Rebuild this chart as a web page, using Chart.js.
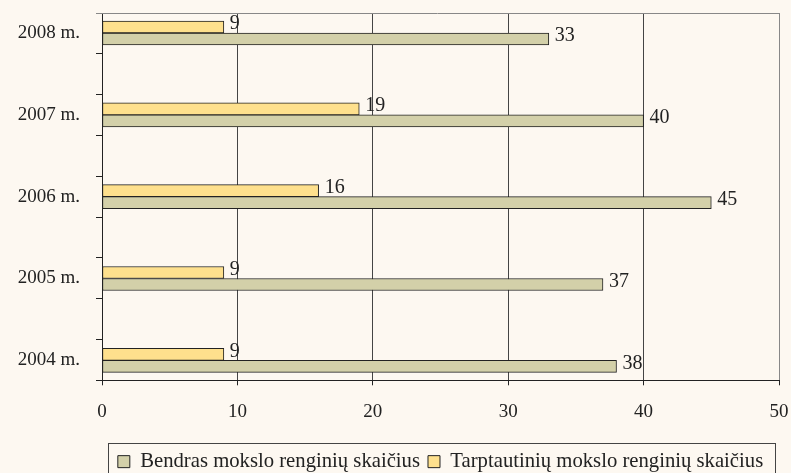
<!DOCTYPE html>
<html lang="lt">
<head>
<meta charset="utf-8">
<script src="https://cdn.jsdelivr.net/npm/chart.js@4.4.0/dist/chart.umd.min.js"></script>
<style>
  html, body { margin: 0; padding: 0; background: #fdf8f1; }
  #wrap { width: 791px; height: 473px; }
</style>
</head>
<body>
<div id="wrap"><canvas id="myChart" width="791" height="473"></canvas></div>
<script>
// values, top to bottom
const years = ['2008 m.', '2007 m.', '2006 m.', '2005 m.', '2004 m.'];
const bendras = [33, 40, 45, 37, 38];
const tarptautiniu = [9, 19, 16, 9, 9];
const seriesNames = ['Bendras mokslo renginių skaičius', 'Tarptautinių mokslo renginių skaičius'];
const xMin = 0, xMax = 50, xStep = 10;

const FONT = 'Liberation Serif, Times New Roman, serif';
const yMin = -0.244, yMax = 4.244;

function tickVal(c) {
  return (c && c.tick) ? c.tick.value : null;
}

// value labels at bar ends
const valueLabels = {
  id: 'valueLabels',
  afterDatasetsDraw(chart) {
    const ctx = chart.ctx;
    ctx.save();
    ctx.font = '20px ' + FONT;
    ctx.fillStyle = '#222';
    ctx.textBaseline = 'middle';
    ctx.textAlign = 'left';
    chart.data.datasets.forEach((ds, di) => {
      chart.getDatasetMeta(di).data.forEach((el, i) => {
        ctx.fillText(ds.data[i].x, el.x + 6, el.y - 3);
      });
    });
    ctx.restore();
  }
};

// top border of the plot and the box round the legend
const frame = {
  id: 'frame',
  beforeDatasetsDraw(chart) {
    const a = chart.chartArea, ctx = chart.ctx;
    ctx.save();
    ctx.strokeStyle = '#888';
    ctx.lineWidth = 1;
    ctx.beginPath();
    ctx.moveTo(a.left - 6, Math.round(a.top) + 0.5);
    ctx.lineTo(a.right, Math.round(a.top) + 0.5);
    ctx.stroke();
    ctx.restore();
  },
  afterDraw(chart) {
    const lg = chart.legend, ctx = chart.ctx;
    const hb = lg.legendHitBoxes;
    if (!hb || !hb.length) return;
    const l = Math.min(...hb.map(h => h.left)) - 10;
    const r = Math.max(...hb.map(h => h.left + h.width)) + 12;
    ctx.save();
    ctx.strokeStyle = '#444';
    ctx.lineWidth = 1;
    ctx.strokeRect(Math.round(l) + 0.5, Math.round(lg.top) + 0.5, Math.round(r - l), 60);
    ctx.restore();
  }
};

const ctx = document.getElementById('myChart').getContext('2d');
const myChart = new Chart(ctx, {
  type: 'bar',
  data: {
    datasets: [
      {
        label: seriesNames[1],
        data: tarptautiniu.map((v, i) => ({ x: v, y: i })),
        backgroundColor: '#fee08d',
        borderColor: '#222',
        borderWidth: 1,
        borderSkipped: false,
        barThickness: 12
      },
      {
        label: seriesNames[0],
        data: bendras.map((v, i) => ({ x: v, y: i })),
        backgroundColor: '#d3d0a9',
        borderColor: '#222',
        borderWidth: 1,
        borderSkipped: false,
        barThickness: 12
      }
    ]
  },
  options: {
    indexAxis: 'y',
    responsive: false,
    animation: false,
    layout: { padding: { top: 13, right: 12, left: 0, bottom: -9 } },
    scales: {
      x: {
        type: 'linear',
        min: xMin,
        max: xMax,
        ticks: { stepSize: xStep, color: '#222', font: { family: FONT, size: 19 }, padding: 15 },
        grid: {
          color: c => {
            const v = tickVal(c);
            return v === xMin ? 'rgba(0,0,0,0)' : (v === xMax ? '#888' : '#444');
          },
          tickColor: '#222',
          tickLength: 5
        },
        border: { color: '#222', width: 1 },
        afterFit(scale) {
          scale.height = 63;
          scale.paddingLeft = 0;
          scale.paddingRight = 0;
        }
      },
      y: {
        type: 'linear',
        reverse: true,
        offset: false,
        min: yMin,
        max: yMax,
        afterBuildTicks(scale) {
          const t = [];
          for (let k = 0; k <= 9; k++) t.push({ value: yMin + k * (yMax - yMin) / 9 });
          years.forEach((y, i) => t.push({ value: i }));
          t.sort((a, b) => a.value - b.value);
          scale.ticks = t;
        },
        ticks: {
          autoSkip: false,
          color: '#222',
          font: { family: FONT, size: 19 },
          padding: 16,
          callback: v => Number.isInteger(v) ? years[v] : ''
        },
        grid: {
          offset: false,
          drawOnChartArea: false,
          tickLength: 6,
          tickColor: c => {
            const v = tickVal(c);
            if (v === null) return '#222';
            return Number.isInteger(v) ? 'rgba(0,0,0,0)' : (c.index === 0 ? '#888' : '#222');
          }
        },
        border: { color: '#222', width: 1 },
        afterFit(scale) {
          scale.width = 102;
          scale.paddingTop = 0;
          scale.paddingBottom = 0;
        }
      }
    },
    plugins: {
      legend: {
        position: 'bottom',
        fullSize: false,
        labels: {
          color: '#222',
          font: { family: FONT, size: 20.7 },
          boxWidth: 12,
          boxHeight: 12,
          padding: 8,
          sort: (a, b) => b.datasetIndex - a.datasetIndex
        }
      },
      tooltip: { enabled: false }
    }
  },
  plugins: [valueLabels, frame]
});
</script>
</body>
</html>
